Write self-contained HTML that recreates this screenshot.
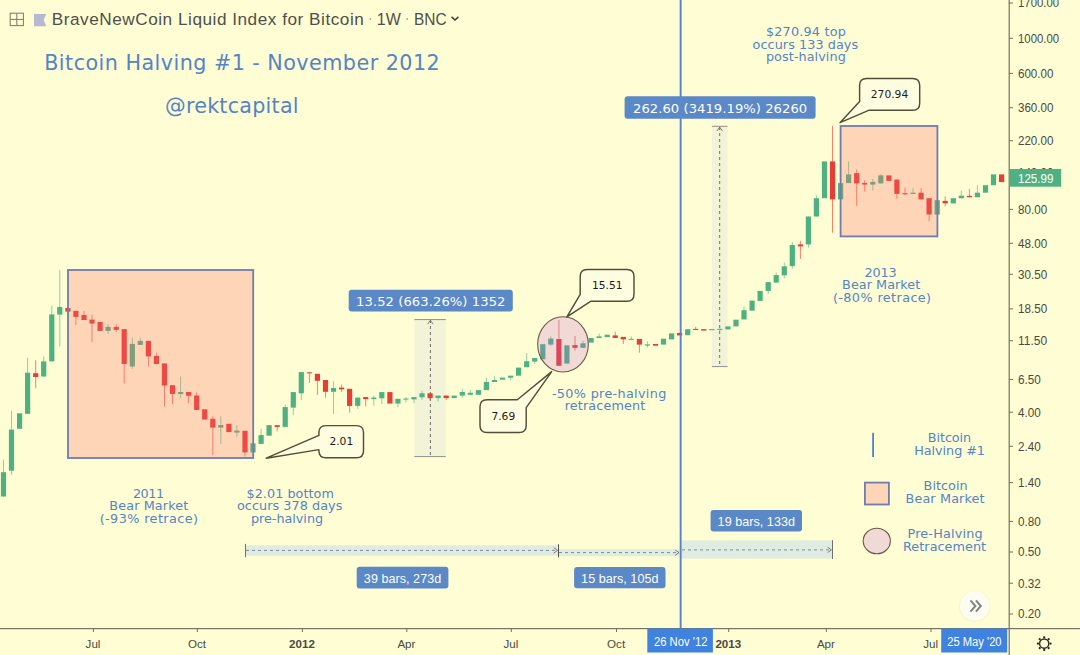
<!DOCTYPE html>
<html lang="en"><head><meta charset="utf-8"><title>Bitcoin Halving #1 - November 2012</title>
<style>
html,body{margin:0;padding:0;background:#fefdd4;}
body{width:1080px;height:655px;overflow:hidden;font-family:"Liberation Sans", sans-serif;}
svg{display:block}
text{white-space:pre}
</style></head><body>
<svg width="1080" height="655" viewBox="0 0 1080 655">
<rect x="0" y="0" width="1080" height="655" fill="#fefdd4"/>

<g id="measures">
<rect x="414.4" y="319.6" width="31.4" height="137" fill="#b8c8e8" fill-opacity="0.16"/>
<line x1="414.4" y1="319.6" x2="445.8" y2="319.6" stroke="#8f9088" stroke-width="1"/>
<line x1="414.4" y1="456.6" x2="445.8" y2="456.6" stroke="#8f9088" stroke-width="1"/>
<line x1="430.4" y1="320" x2="430.4" y2="456.6" stroke="#6e6e66" stroke-width="1" stroke-dasharray="3,3"/>
<path d="M427.6 324.2 L430.4 320.4 L433.2 324.2" fill="none" stroke="#6e6e66" stroke-width="0.9"/>
<rect x="711.9" y="126.3" width="15.7" height="240.3" fill="#b8c8e8" fill-opacity="0.16"/>
<line x1="711.9" y1="126.3" x2="727.6" y2="126.3" stroke="#8f9088" stroke-width="1"/>
<line x1="711.9" y1="366.6" x2="727.6" y2="366.6" stroke="#8f9088" stroke-width="1"/>
<line x1="719.7" y1="127" x2="719.7" y2="366.6" stroke="#6e6e66" stroke-width="1" stroke-dasharray="3,3"/>
<path d="M717 131 L719.7 127.2 L722.4 131" fill="none" stroke="#6e6e66" stroke-width="0.9"/>
<rect x="245.5" y="545.3" width="313" height="10.4" fill="#9cc8ff" fill-opacity="0.30"/>
<line x1="245.5" y1="543.9" x2="245.5" y2="557.3" stroke="#70706a" stroke-width="1"/>
<line x1="246" y1="550.4" x2="557" y2="550.4" stroke="#7d8c96" stroke-width="1" stroke-dasharray="3,3"/>
<path d="M553.6 547.6 L557.6 550.4 L553.6 553.2" fill="none" stroke="#70706a" stroke-width="0.9"/>
<rect x="558.5" y="549.2" width="121" height="7" fill="#9cc8ff" fill-opacity="0.30"/>
<line x1="558.5" y1="544.3" x2="558.5" y2="557.4" stroke="#55554f" stroke-width="1"/>
<line x1="559" y1="552.6" x2="678" y2="552.6" stroke="#7d8c96" stroke-width="1" stroke-dasharray="3,3"/>
<path d="M675.2 549.9 L679 552.6 L675.2 555.3" fill="none" stroke="#70706a" stroke-width="0.9"/>
<rect x="680" y="540.4" width="152.5" height="18.2" fill="#9cc8ff" fill-opacity="0.30"/>
<line x1="832.5" y1="540.2" x2="832.5" y2="559" stroke="#70706a" stroke-width="1"/>
<line x1="682" y1="549.9" x2="831" y2="549.9" stroke="#7d8c96" stroke-width="1" stroke-dasharray="3,3"/>
<path d="M827.6 547.2 L831.4 549.9 L827.6 552.6" fill="none" stroke="#70706a" stroke-width="0.9"/>
</g>
<g id="candles" shape-rendering="auto">
<rect x="3.0" y="459.6" width="1" height="36.9" fill="#4fb181" fill-opacity="0.62"/>
<rect x="0.9" y="472.2" width="5.2" height="24.3" fill="#4fb181"/>
<rect x="11.0" y="411.0" width="1" height="64.0" fill="#4fb181" fill-opacity="0.62"/>
<rect x="8.9" y="429.6" width="5.2" height="41.1" fill="#4fb181"/>
<rect x="17.0" y="413.3" width="5.2" height="15.5" fill="#4fb181"/>
<rect x="27.1" y="357.7" width="1" height="56.1" fill="#4fb181" fill-opacity="0.62"/>
<rect x="25.0" y="372.7" width="5.2" height="41.1" fill="#4fb181"/>
<rect x="35.2" y="360.2" width="1" height="28.0" fill="#e53e36" fill-opacity="0.62"/>
<rect x="33.1" y="373.2" width="5.2" height="3.8" fill="#e53e36"/>
<rect x="43.2" y="356.4" width="1" height="20.1" fill="#4fb181" fill-opacity="0.62"/>
<rect x="41.1" y="361.4" width="5.2" height="15.1" fill="#4fb181"/>
<rect x="51.3" y="305.6" width="1" height="55.8" fill="#4fb181" fill-opacity="0.62"/>
<rect x="49.2" y="314.4" width="5.2" height="47.0" fill="#4fb181"/>
<rect x="59.3" y="270.0" width="1" height="76.4" fill="#4fb181" fill-opacity="0.62"/>
<rect x="57.2" y="307.0" width="5.2" height="7.6" fill="#4fb181"/>
<rect x="65.3" y="308.0" width="5.2" height="3.6" fill="#e53e36"/>
<rect x="75.4" y="310.9" width="1" height="14.1" fill="#e53e36" fill-opacity="0.62"/>
<rect x="73.3" y="310.9" width="5.2" height="6.0" fill="#e53e36"/>
<rect x="83.5" y="310.9" width="1" height="9.1" fill="#e53e36" fill-opacity="0.62"/>
<rect x="81.4" y="315.0" width="5.2" height="5.0" fill="#e53e36"/>
<rect x="91.5" y="314.6" width="1" height="27.6" fill="#e53e36" fill-opacity="0.62"/>
<rect x="89.4" y="319.6" width="5.2" height="4.0" fill="#e53e36"/>
<rect x="97.5" y="321.9" width="5.2" height="9.0" fill="#e53e36"/>
<rect x="107.6" y="324.0" width="1" height="10.0" fill="#4fb181" fill-opacity="0.62"/>
<rect x="105.5" y="326.9" width="5.2" height="4.0" fill="#4fb181"/>
<rect x="115.7" y="323.9" width="1" height="8.1" fill="#e53e36" fill-opacity="0.62"/>
<rect x="113.6" y="326.9" width="5.2" height="3.0" fill="#e53e36"/>
<rect x="123.7" y="329.1" width="1" height="54.4" fill="#e53e36" fill-opacity="0.62"/>
<rect x="121.6" y="329.1" width="5.2" height="34.9" fill="#e53e36"/>
<rect x="131.8" y="337.7" width="1" height="31.3" fill="#4fb181" fill-opacity="0.62"/>
<rect x="129.7" y="343.9" width="5.2" height="22.6" fill="#4fb181"/>
<rect x="139.8" y="337.7" width="1" height="7.2" fill="#4fb181" fill-opacity="0.62"/>
<rect x="137.7" y="340.9" width="5.2" height="4.0" fill="#4fb181"/>
<rect x="147.9" y="340.9" width="1" height="25.6" fill="#e53e36" fill-opacity="0.62"/>
<rect x="145.8" y="340.9" width="5.2" height="15.5" fill="#e53e36"/>
<rect x="155.9" y="352.7" width="1" height="11.3" fill="#e53e36" fill-opacity="0.62"/>
<rect x="153.8" y="355.9" width="5.2" height="8.1" fill="#e53e36"/>
<rect x="164.0" y="363.4" width="1" height="43.1" fill="#e53e36" fill-opacity="0.62"/>
<rect x="161.9" y="363.4" width="5.2" height="22.1" fill="#e53e36"/>
<rect x="172.0" y="385.2" width="1" height="18.8" fill="#e53e36" fill-opacity="0.62"/>
<rect x="169.9" y="385.2" width="5.2" height="8.8" fill="#e53e36"/>
<rect x="180.1" y="376.5" width="1" height="21.8" fill="#4fb181" fill-opacity="0.62"/>
<rect x="178.0" y="392.0" width="5.2" height="2.0" fill="#4fb181"/>
<rect x="188.1" y="392.0" width="1" height="11.3" fill="#e53e36" fill-opacity="0.62"/>
<rect x="186.0" y="392.0" width="5.2" height="3.8" fill="#e53e36"/>
<rect x="196.2" y="392.5" width="1" height="17.5" fill="#e53e36" fill-opacity="0.62"/>
<rect x="194.1" y="395.5" width="5.2" height="14.5" fill="#e53e36"/>
<rect x="202.1" y="409.3" width="5.2" height="10.3" fill="#e53e36"/>
<rect x="212.3" y="416.3" width="1" height="38.8" fill="#e53e36" fill-opacity="0.62"/>
<rect x="210.2" y="418.8" width="5.2" height="8.8" fill="#e53e36"/>
<rect x="220.3" y="416.3" width="1" height="27.6" fill="#4fb181" fill-opacity="0.62"/>
<rect x="218.2" y="425.0" width="5.2" height="2.6" fill="#4fb181"/>
<rect x="226.3" y="423.8" width="5.2" height="8.3" fill="#e53e36"/>
<rect x="236.4" y="425.0" width="1" height="12.0" fill="#4fb181" fill-opacity="0.62"/>
<rect x="234.3" y="430.6" width="5.2" height="2.0" fill="#4fb181"/>
<rect x="244.5" y="430.8" width="1" height="25.6" fill="#e53e36" fill-opacity="0.62"/>
<rect x="242.4" y="430.8" width="5.2" height="21.6" fill="#e53e36"/>
<rect x="250.4" y="443.3" width="5.2" height="9.1" fill="#4fb181"/>
<rect x="260.6" y="428.9" width="1" height="15.0" fill="#4fb181" fill-opacity="0.62"/>
<rect x="258.5" y="435.1" width="5.2" height="8.8" fill="#4fb181"/>
<rect x="266.5" y="425.1" width="5.2" height="10.6" fill="#4fb181"/>
<rect x="276.7" y="425.2" width="1" height="6.2" fill="#e53e36" fill-opacity="0.62"/>
<rect x="274.6" y="425.2" width="5.2" height="1.7" fill="#e53e36"/>
<rect x="284.7" y="404.6" width="1" height="22.3" fill="#4fb181" fill-opacity="0.62"/>
<rect x="282.6" y="407.1" width="5.2" height="19.8" fill="#4fb181"/>
<rect x="292.8" y="392.1" width="1" height="23.0" fill="#4fb181" fill-opacity="0.62"/>
<rect x="290.7" y="392.1" width="5.2" height="15.5" fill="#4fb181"/>
<rect x="300.8" y="372.1" width="1" height="27.9" fill="#4fb181" fill-opacity="0.62"/>
<rect x="298.7" y="372.1" width="5.2" height="21.2" fill="#4fb181"/>
<rect x="308.9" y="372.3" width="1" height="10.7" fill="#e53e36" fill-opacity="0.62"/>
<rect x="306.8" y="372.3" width="5.2" height="1.0" fill="#e53e36"/>
<rect x="316.9" y="373.8" width="1" height="21.2" fill="#e53e36" fill-opacity="0.62"/>
<rect x="314.8" y="373.8" width="5.2" height="7.0" fill="#e53e36"/>
<rect x="325.0" y="380.0" width="1" height="17.6" fill="#e53e36" fill-opacity="0.62"/>
<rect x="322.9" y="380.0" width="5.2" height="11.8" fill="#e53e36"/>
<rect x="333.0" y="381.3" width="1" height="32.6" fill="#4fb181" fill-opacity="0.62"/>
<rect x="330.9" y="388.0" width="5.2" height="3.8" fill="#4fb181"/>
<rect x="341.1" y="384.6" width="1" height="7.4" fill="#e53e36" fill-opacity="0.62"/>
<rect x="339.0" y="387.6" width="5.2" height="1.7" fill="#e53e36"/>
<rect x="349.1" y="388.8" width="1" height="23.8" fill="#e53e36" fill-opacity="0.62"/>
<rect x="347.0" y="388.8" width="5.2" height="17.1" fill="#e53e36"/>
<rect x="357.2" y="397.6" width="1" height="11.3" fill="#4fb181" fill-opacity="0.62"/>
<rect x="355.1" y="397.6" width="5.2" height="8.3" fill="#4fb181"/>
<rect x="365.2" y="397.1" width="1" height="9.3" fill="#e53e36" fill-opacity="0.62"/>
<rect x="363.1" y="397.1" width="5.2" height="2.0" fill="#e53e36"/>
<rect x="373.3" y="395.6" width="1" height="10.0" fill="#4fb181" fill-opacity="0.62"/>
<rect x="371.2" y="397.6" width="5.2" height="1.5" fill="#4fb181"/>
<rect x="381.3" y="392.1" width="1" height="11.8" fill="#4fb181" fill-opacity="0.62"/>
<rect x="379.2" y="392.1" width="5.2" height="6.2" fill="#4fb181"/>
<rect x="387.3" y="392.1" width="5.2" height="11.5" fill="#e53e36"/>
<rect x="397.4" y="398.8" width="1" height="8.3" fill="#4fb181" fill-opacity="0.62"/>
<rect x="395.3" y="398.8" width="5.2" height="4.8" fill="#4fb181"/>
<rect x="405.4" y="397.1" width="1" height="5.5" fill="#4fb181" fill-opacity="0.62"/>
<rect x="403.3" y="398.6" width="5.2" height="1.0" fill="#4fb181"/>
<rect x="413.5" y="397.1" width="1" height="6.0" fill="#4fb181" fill-opacity="0.62"/>
<rect x="411.4" y="397.1" width="5.2" height="2.3" fill="#4fb181"/>
<rect x="421.5" y="390.8" width="1" height="9.2" fill="#4fb181" fill-opacity="0.62"/>
<rect x="419.4" y="393.3" width="5.2" height="4.0" fill="#4fb181"/>
<rect x="429.6" y="393.3" width="1" height="6.7" fill="#e53e36" fill-opacity="0.62"/>
<rect x="427.5" y="393.3" width="5.2" height="4.8" fill="#e53e36"/>
<rect x="437.6" y="395.6" width="1" height="5.8" fill="#4fb181" fill-opacity="0.62"/>
<rect x="435.5" y="395.6" width="5.2" height="2.5" fill="#4fb181"/>
<rect x="445.7" y="395.6" width="1" height="4.4" fill="#e53e36" fill-opacity="0.62"/>
<rect x="443.6" y="395.6" width="5.2" height="2.5" fill="#e53e36"/>
<rect x="451.6" y="395.6" width="5.2" height="2.5" fill="#4fb181"/>
<rect x="461.8" y="388.8" width="1" height="8.8" fill="#4fb181" fill-opacity="0.62"/>
<rect x="459.7" y="392.0" width="5.2" height="3.6" fill="#4fb181"/>
<rect x="469.8" y="390.0" width="1" height="4.8" fill="#4fb181" fill-opacity="0.62"/>
<rect x="467.7" y="392.8" width="5.2" height="2.0" fill="#4fb181"/>
<rect x="475.8" y="390.1" width="5.2" height="4.7" fill="#4fb181"/>
<rect x="485.9" y="377.6" width="1" height="12.5" fill="#4fb181" fill-opacity="0.62"/>
<rect x="483.8" y="381.9" width="5.2" height="8.2" fill="#4fb181"/>
<rect x="494.0" y="376.4" width="1" height="5.6" fill="#4fb181" fill-opacity="0.62"/>
<rect x="491.9" y="380.0" width="5.2" height="2.0" fill="#4fb181"/>
<rect x="499.9" y="377.6" width="5.2" height="2.1" fill="#4fb181"/>
<rect x="510.1" y="375.7" width="1" height="4.5" fill="#4fb181" fill-opacity="0.62"/>
<rect x="508.0" y="375.7" width="5.2" height="2.0" fill="#4fb181"/>
<rect x="516.0" y="367.6" width="5.2" height="8.1" fill="#4fb181"/>
<rect x="526.2" y="353.0" width="1" height="14.2" fill="#4fb181" fill-opacity="0.62"/>
<rect x="524.1" y="361.2" width="5.2" height="6.0" fill="#4fb181"/>
<rect x="534.2" y="358.0" width="1" height="6.0" fill="#4fb181" fill-opacity="0.62"/>
<rect x="532.1" y="358.0" width="5.2" height="3.6" fill="#4fb181"/>
<rect x="540.2" y="344.2" width="5.2" height="15.1" fill="#4fb181"/>
<rect x="550.3" y="336.4" width="1" height="9.8" fill="#4fb181" fill-opacity="0.62"/>
<rect x="548.2" y="338.6" width="5.2" height="6.0" fill="#4fb181"/>
<rect x="558.4" y="319.9" width="1" height="45.9" fill="#e53e36" fill-opacity="0.62"/>
<rect x="556.3" y="339.0" width="5.2" height="26.8" fill="#e53e36"/>
<rect x="564.3" y="345.3" width="5.2" height="18.3" fill="#4fb181"/>
<rect x="574.5" y="336.0" width="1" height="14.5" fill="#e53e36" fill-opacity="0.62"/>
<rect x="572.4" y="345.1" width="5.2" height="2.7" fill="#e53e36"/>
<rect x="582.5" y="340.7" width="1" height="7.1" fill="#4fb181" fill-opacity="0.62"/>
<rect x="580.4" y="343.3" width="5.2" height="4.5" fill="#4fb181"/>
<rect x="588.5" y="338.0" width="5.2" height="4.6" fill="#4fb181"/>
<rect x="598.6" y="333.6" width="1" height="4.4" fill="#4fb181" fill-opacity="0.62"/>
<rect x="596.5" y="336.4" width="5.2" height="1.6" fill="#4fb181"/>
<rect x="604.6" y="334.7" width="5.2" height="2.4" fill="#4fb181"/>
<rect x="614.7" y="331.6" width="1" height="6.4" fill="#e53e36" fill-opacity="0.62"/>
<rect x="612.6" y="335.4" width="5.2" height="2.6" fill="#e53e36"/>
<rect x="622.8" y="336.9" width="1" height="7.0" fill="#e53e36" fill-opacity="0.62"/>
<rect x="620.7" y="336.9" width="5.2" height="2.5" fill="#e53e36"/>
<rect x="630.8" y="336.4" width="1" height="3.5" fill="#4fb181" fill-opacity="0.62"/>
<rect x="628.7" y="338.9" width="5.2" height="1.0" fill="#4fb181"/>
<rect x="638.9" y="338.9" width="1" height="13.8" fill="#e53e36" fill-opacity="0.62"/>
<rect x="636.8" y="338.9" width="5.2" height="5.7" fill="#e53e36"/>
<rect x="646.9" y="341.4" width="1" height="6.3" fill="#4fb181" fill-opacity="0.62"/>
<rect x="644.8" y="344.4" width="5.2" height="1.2" fill="#4fb181"/>
<rect x="652.9" y="344.0" width="5.2" height="1.7" fill="#e53e36"/>
<rect x="660.9" y="338.7" width="5.2" height="5.9" fill="#4fb181"/>
<rect x="669.0" y="333.4" width="5.2" height="6.0" fill="#4fb181"/>
<rect x="677.0" y="332.9" width="5.2" height="2.5" fill="#e53e36"/>
<rect x="685.1" y="329.2" width="5.2" height="6.0" fill="#4fb181"/>
<rect x="695.2" y="326.8" width="1" height="3.2" fill="#e53e36" fill-opacity="0.62"/>
<rect x="693.1" y="328.9" width="5.2" height="1.1" fill="#e53e36"/>
<rect x="701.2" y="329.1" width="5.2" height="1.5" fill="#e53e36"/>
<rect x="709.2" y="329.1" width="5.2" height="1.1" fill="#4fb181"/>
<rect x="719.4" y="327.5" width="1" height="3.7" fill="#4fb181" fill-opacity="0.62"/>
<rect x="717.3" y="328.9" width="5.2" height="1.0" fill="#4fb181"/>
<rect x="725.3" y="326.4" width="5.2" height="3.0" fill="#4fb181"/>
<rect x="733.4" y="319.7" width="5.2" height="6.7" fill="#4fb181"/>
<rect x="743.5" y="306.4" width="1" height="13.0" fill="#4fb181" fill-opacity="0.62"/>
<rect x="741.4" y="310.2" width="5.2" height="9.2" fill="#4fb181"/>
<rect x="749.5" y="300.6" width="5.2" height="10.1" fill="#4fb181"/>
<rect x="757.5" y="290.9" width="5.2" height="10.0" fill="#4fb181"/>
<rect x="767.7" y="282.1" width="1" height="11.8" fill="#4fb181" fill-opacity="0.62"/>
<rect x="765.6" y="282.1" width="5.2" height="8.8" fill="#4fb181"/>
<rect x="775.7" y="272.6" width="1" height="10.0" fill="#4fb181" fill-opacity="0.62"/>
<rect x="773.6" y="275.1" width="5.2" height="7.5" fill="#4fb181"/>
<rect x="783.8" y="262.6" width="1" height="15.5" fill="#4fb181" fill-opacity="0.62"/>
<rect x="781.7" y="266.3" width="5.2" height="9.0" fill="#4fb181"/>
<rect x="791.8" y="242.0" width="1" height="26.8" fill="#4fb181" fill-opacity="0.62"/>
<rect x="789.7" y="245.0" width="5.2" height="21.1" fill="#4fb181"/>
<rect x="799.9" y="240.7" width="1" height="18.2" fill="#e53e36" fill-opacity="0.62"/>
<rect x="797.8" y="244.4" width="5.2" height="2.0" fill="#e53e36"/>
<rect x="807.9" y="216.5" width="1" height="31.1" fill="#4fb181" fill-opacity="0.62"/>
<rect x="805.8" y="216.5" width="5.2" height="27.9" fill="#4fb181"/>
<rect x="815.9" y="195.2" width="1" height="21.3" fill="#4fb181" fill-opacity="0.62"/>
<rect x="813.8" y="198.2" width="5.2" height="18.3" fill="#4fb181"/>
<rect x="821.9" y="161.4" width="5.2" height="36.8" fill="#4fb181"/>
<rect x="832.0" y="125.8" width="1" height="106.9" fill="#e53e36" fill-opacity="0.62"/>
<rect x="829.9" y="161.4" width="5.2" height="38.0" fill="#e53e36"/>
<rect x="838.0" y="183.1" width="5.2" height="16.3" fill="#4fb181"/>
<rect x="848.1" y="161.4" width="1" height="21.7" fill="#4fb181" fill-opacity="0.62"/>
<rect x="846.0" y="174.4" width="5.2" height="8.7" fill="#4fb181"/>
<rect x="856.2" y="169.4" width="1" height="36.3" fill="#e53e36" fill-opacity="0.62"/>
<rect x="854.1" y="173.1" width="5.2" height="10.3" fill="#e53e36"/>
<rect x="864.2" y="180.1" width="1" height="11.3" fill="#e53e36" fill-opacity="0.62"/>
<rect x="862.1" y="182.9" width="5.2" height="1.7" fill="#e53e36"/>
<rect x="872.3" y="178.9" width="1" height="11.8" fill="#4fb181" fill-opacity="0.62"/>
<rect x="870.2" y="181.9" width="5.2" height="2.7" fill="#4fb181"/>
<rect x="880.3" y="174.2" width="1" height="9.2" fill="#4fb181" fill-opacity="0.62"/>
<rect x="878.2" y="175.4" width="5.2" height="8.0" fill="#4fb181"/>
<rect x="886.3" y="175.4" width="5.2" height="5.5" fill="#e53e36"/>
<rect x="896.4" y="179.6" width="1" height="19.3" fill="#e53e36" fill-opacity="0.62"/>
<rect x="894.3" y="179.6" width="5.2" height="14.3" fill="#e53e36"/>
<rect x="904.5" y="187.7" width="1" height="7.5" fill="#e53e36" fill-opacity="0.62"/>
<rect x="902.4" y="193.2" width="5.2" height="1.1" fill="#e53e36"/>
<rect x="912.5" y="188.2" width="1" height="5.7" fill="#4fb181" fill-opacity="0.62"/>
<rect x="910.4" y="192.7" width="5.2" height="1.2" fill="#4fb181"/>
<rect x="920.6" y="188.2" width="1" height="11.2" fill="#e53e36" fill-opacity="0.62"/>
<rect x="918.5" y="192.7" width="5.2" height="6.7" fill="#e53e36"/>
<rect x="928.6" y="198.2" width="1" height="23.3" fill="#e53e36" fill-opacity="0.62"/>
<rect x="926.5" y="198.2" width="5.2" height="16.3" fill="#e53e36"/>
<rect x="934.6" y="200.2" width="5.2" height="14.3" fill="#4fb181"/>
<rect x="944.7" y="196.4" width="1" height="10.0" fill="#e53e36" fill-opacity="0.62"/>
<rect x="942.6" y="200.9" width="5.2" height="2.4" fill="#e53e36"/>
<rect x="950.7" y="198.2" width="5.2" height="5.2" fill="#4fb181"/>
<rect x="960.8" y="190.7" width="1" height="7.5" fill="#4fb181" fill-opacity="0.62"/>
<rect x="958.7" y="195.7" width="5.2" height="2.5" fill="#4fb181"/>
<rect x="968.9" y="188.9" width="1" height="8.3" fill="#e53e36" fill-opacity="0.62"/>
<rect x="966.8" y="195.9" width="5.2" height="1.3" fill="#e53e36"/>
<rect x="976.9" y="185.2" width="1" height="12.0" fill="#4fb181" fill-opacity="0.62"/>
<rect x="974.8" y="192.7" width="5.2" height="4.5" fill="#4fb181"/>
<rect x="982.9" y="185.2" width="5.2" height="7.5" fill="#4fb181"/>
<rect x="990.9" y="174.4" width="5.2" height="10.8" fill="#4fb181"/>
<rect x="999.0" y="174.4" width="5.2" height="7.7" fill="#e53e36"/>
</g>
<rect x="679.7" y="0" width="1.9" height="628.5" fill="#5882cc"/>
<rect x="68" y="270" width="185.2" height="188" fill="#ff6e6d" fill-opacity="0.28" stroke="#717cad" stroke-width="1.8"/>
<rect x="840.6" y="126" width="96.8" height="110.4" fill="#ff6e6d" fill-opacity="0.28" stroke="#717cad" stroke-width="1.8"/>
<ellipse cx="563" cy="344.4" rx="25.3" ry="27.6" fill="#c661dc" fill-opacity="0.22" stroke="#6a5a4a" stroke-width="1.1"/>
<path d="M325.9 425.6 H356.5 Q363.5 425.6 363.5 432.6 V450.7 Q363.5 457.7 356.5 457.7 H325.9 Q318.9 457.7 318.9 450.7 V449.6 L266.3 458.2 L318.9 435.4 V432.6 Q318.9 425.6 325.9 425.6 Z" fill="#fffde0" stroke="#524f38" stroke-width="1.45" stroke-linejoin="round"/>
<text x="341.3" y="445.1" font-size="10.7" fill="#1c1c1c" text-anchor="middle" font-family='"DejaVu Sans", "Liberation Sans", sans-serif'>2.01</text>
<path d="M487 399.7 H517.3 L551.7 371.6 L526.2 407.6 V425.4 Q526.2 432.4 519.2 432.4 H487 Q480 432.4 480 425.4 V406.7 Q480 399.7 487 399.7 Z" fill="#fffde0" stroke="#524f38" stroke-width="1.45" stroke-linejoin="round"/>
<text x="503.3" y="419.6" font-size="10.7" fill="#1c1c1c" text-anchor="middle" font-family='"DejaVu Sans", "Liberation Sans", sans-serif'>7.69</text>
<path d="M587.2 269.5 H627 Q634 269.5 634 276.5 V294.3 Q634 301.3 627 301.3 H590.6 L566.9 316.9 L580.2 294.4 V276.5 Q580.2 269.5 587.2 269.5 Z" fill="#fffde0" stroke="#524f38" stroke-width="1.45" stroke-linejoin="round"/>
<text x="607.2" y="289.3" font-size="10.7" fill="#1c1c1c" text-anchor="middle" font-family='"DejaVu Sans", "Liberation Sans", sans-serif'>15.51</text>
<path d="M866.6 78.4 H912.7 Q919.7 78.4 919.7 85.4 V103.2 Q919.7 110.2 912.7 110.2 H869.2 L840 122.7 L859.6 101.4 V85.4 Q859.6 78.4 866.6 78.4 Z" fill="#fffde0" stroke="#524f38" stroke-width="1.45" stroke-linejoin="round"/>
<text x="889.5" y="98.2" font-size="10.7" fill="#1c1c1c" text-anchor="middle" font-family='"DejaVu Sans", "Liberation Sans", sans-serif'>270.94</text>
<rect x="348.7" y="289.8" width="164.1" height="21.8" rx="3" ry="3" fill="#5b88c6"/><text x="430.75" y="305.8" font-size="13.15" fill="#ffffff" text-anchor="middle" textLength="149.4" font-family='"DejaVu Sans", "Liberation Sans", sans-serif'>13.52 (663.26%) 1352</text>
<rect x="624.6" y="96.3" width="191" height="22.4" rx="3" ry="3" fill="#5b88c6"/><text x="720.1" y="112.6" font-size="13.15" fill="#ffffff" text-anchor="middle" textLength="174.2" font-family='"DejaVu Sans", "Liberation Sans", sans-serif'>262.60 (3419.19%) 26260</text>
<rect x="356.7" y="566.8" width="91.7" height="21.6" rx="3" ry="3" fill="#5b88c6"/><text x="402.55" y="582.5" font-size="12.6" fill="#ffffff" text-anchor="middle" textLength="77.4" font-family='"Liberation Sans", sans-serif'>39 bars, 273d</text>
<rect x="574.1" y="566.9" width="91.4" height="21.4" rx="3" ry="3" fill="#5b88c6"/><text x="619.8000000000001" y="582.5" font-size="12.6" fill="#ffffff" text-anchor="middle" textLength="77.4" font-family='"Liberation Sans", sans-serif'>15 bars, 105d</text>
<rect x="710.6" y="510.1" width="91.4" height="21.5" rx="3" ry="3" fill="#5b88c6"/><text x="756.3000000000001" y="525.7" font-size="12.6" fill="#ffffff" text-anchor="middle" textLength="77.4" font-family='"Liberation Sans", sans-serif'>19 bars, 133d</text>
<text x="132.9" y="497.6" font-size="12.8" fill="#5584c4" textLength="31.3" font-family='"DejaVu Sans", "Liberation Sans", sans-serif' >2011</text>
<text x="109.3" y="510.4" font-size="12.8" fill="#5584c4" textLength="79.0" font-family='"DejaVu Sans", "Liberation Sans", sans-serif' >Bear Market</text>
<text x="99.7" y="523.4" font-size="12.8" fill="#5584c4" textLength="98.2" font-family='"DejaVu Sans", "Liberation Sans", sans-serif' >(-93% retrace)</text>
<text x="246.5" y="497.6" font-size="12.8" fill="#5584c4" textLength="87.4" font-family='"DejaVu Sans", "Liberation Sans", sans-serif' >$2.01 bottom</text>
<text x="236.9" y="510.4" font-size="12.8" fill="#5584c4" textLength="105.5" font-family='"DejaVu Sans", "Liberation Sans", sans-serif' >occurs 378 days</text>
<text x="250.9" y="523.4" font-size="12.8" fill="#5584c4" textLength="72.2" font-family='"DejaVu Sans", "Liberation Sans", sans-serif' >pre-halving</text>
<text x="551.9" y="397.7" font-size="12.8" fill="#5584c4" textLength="114.4" font-family='"DejaVu Sans", "Liberation Sans", sans-serif' >-50% pre-halving</text>
<text x="564.7" y="410.0" font-size="12.8" fill="#5584c4" textLength="80.6" font-family='"DejaVu Sans", "Liberation Sans", sans-serif' >retracement</text>
<text x="864.5" y="276.5" font-size="12.8" fill="#5584c4" textLength="32.2" font-family='"DejaVu Sans", "Liberation Sans", sans-serif' >2013</text>
<text x="842.1" y="289.3" font-size="12.8" fill="#5584c4" textLength="78.2" font-family='"DejaVu Sans", "Liberation Sans", sans-serif' >Bear Market</text>
<text x="832.9" y="302.0" font-size="12.8" fill="#5584c4" textLength="98.2" font-family='"DejaVu Sans", "Liberation Sans", sans-serif' >(-80% retrace)</text>
<text x="765.9" y="36.4" font-size="12.8" fill="#5584c4" textLength="79.9" font-family='"DejaVu Sans", "Liberation Sans", sans-serif' >$270.94 top</text>
<text x="752.6" y="48.9" font-size="12.8" fill="#5584c4" textLength="105.5" font-family='"DejaVu Sans", "Liberation Sans", sans-serif' >occurs 133 days</text>
<text x="765.9" y="60.9" font-size="12.8" fill="#5584c4" textLength="79.9" font-family='"DejaVu Sans", "Liberation Sans", sans-serif' >post-halving</text>
<rect x="872.2" y="432.8" width="1.8" height="24.2" fill="#4f7fd0"/>
<text x="927.8" y="441.9" font-size="12.8" fill="#5584c4" textLength="43.4" font-family='"DejaVu Sans", "Liberation Sans", sans-serif' >Bitcoin</text>
<text x="914.3" y="454.5" font-size="12.8" fill="#5584c4" textLength="70.7" font-family='"DejaVu Sans", "Liberation Sans", sans-serif' >Halving #1</text>
<rect x="864.9" y="482.6" width="24" height="21.9" fill="#ff6e6d" fill-opacity="0.28" stroke="#717cad" stroke-width="1.8"/>
<text x="923.6" y="490.0" font-size="12.8" fill="#5584c4" textLength="44.1" font-family='"DejaVu Sans", "Liberation Sans", sans-serif' >Bitcoin</text>
<text x="905.5" y="502.7" font-size="12.8" fill="#5584c4" textLength="79.1" font-family='"DejaVu Sans", "Liberation Sans", sans-serif' >Bear Market</text>
<ellipse cx="876.8" cy="541" rx="13.6" ry="12.7" fill="#c661dc" fill-opacity="0.22" stroke="#6a5a4a" stroke-width="1.1"/>
<text x="907.5" y="538.4" font-size="12.8" fill="#5584c4" textLength="75.1" font-family='"DejaVu Sans", "Liberation Sans", sans-serif' >Pre-Halving</text>
<text x="903.0" y="550.8" font-size="12.8" fill="#5584c4" textLength="83.1" font-family='"DejaVu Sans", "Liberation Sans", sans-serif' >Retracement</text>
<text x="44.2" y="70.3" font-size="20.7" textLength="395.5" fill="#5584c4" font-family='"DejaVu Sans", "Liberation Sans", sans-serif' id="big1">Bitcoin Halving #1 - November 2012</text>
<text x="165.0" y="112.7" font-size="20.7" textLength="133.6" fill="#5584c4" font-family='"DejaVu Sans", "Liberation Sans", sans-serif' id="big2">@rektcapital</text>
<g id="header">
<rect x="10.2" y="13.2" width="13.2" height="12.4" fill="none" stroke="#7a7a66" stroke-width="1"/>
<path d="M16.8 13.4 V25.4 M10.4 19.4 H23.2" stroke="#7a7a66" stroke-width="1" fill="none"/>
<path d="M34 14 H46.3 L43.6 20 L46.3 26.2 H34 Z" fill="#b6b9d2"/>
<text x="51.8" y="25" font-size="17.2" textLength="312" fill="#50504a" font-family='"Liberation Sans", sans-serif' id="ttl">BraveNewCoin Liquid Index for Bitcoin</text>
<circle cx="370.3" cy="19" r="0.9" fill="#a5a596"/>
<text x="376.8" y="25" font-size="17.2" textLength="24" lengthAdjust="spacingAndGlyphs" fill="#50504a" font-family='"Liberation Sans", sans-serif' id="tf">1W</text>
<circle cx="407.2" cy="19" r="0.9" fill="#a5a596"/>
<text x="414.0" y="25" font-size="17.2" textLength="32.6" lengthAdjust="spacingAndGlyphs" fill="#50504a" font-family='"Liberation Sans", sans-serif' id="ex">BNC</text>
<path d="M451.6 16.9 L455 20 L458.4 16.9" fill="none" stroke="#3c3c34" stroke-width="1.5"/>
</g>
<g id="axes">
<rect x="0" y="628" width="1080" height="1.2" fill="#74735b"/>
<rect x="1008.6" y="0" width="1.2" height="655" fill="#74735b"/>
<rect x="1009" y="2.5" width="4" height="1" fill="#74735b"/>
<text x="1018.0" y="7.3" font-size="12" textLength="41.099999999999994" lengthAdjust="spacingAndGlyphs" fill="#4a4a42" font-family='"Liberation Sans", sans-serif'>1700.00</text>
<rect x="1009" y="37.8" width="4" height="1" fill="#74735b"/>
<text x="1018.0" y="42.6" font-size="12" textLength="41.099999999999994" lengthAdjust="spacingAndGlyphs" fill="#4a4a42" font-family='"Liberation Sans", sans-serif'>1000.00</text>
<rect x="1009" y="72.9" width="4" height="1" fill="#74735b"/>
<text x="1018.0" y="77.7" font-size="12" textLength="35.4" lengthAdjust="spacingAndGlyphs" fill="#4a4a42" font-family='"Liberation Sans", sans-serif'>600.00</text>
<rect x="1009" y="107.2" width="4" height="1" fill="#74735b"/>
<text x="1018.0" y="112.0" font-size="12" textLength="35.4" lengthAdjust="spacingAndGlyphs" fill="#4a4a42" font-family='"Liberation Sans", sans-serif'>360.00</text>
<rect x="1009" y="140.2" width="4" height="1" fill="#74735b"/>
<text x="1018.0" y="145.0" font-size="12" textLength="35.4" lengthAdjust="spacingAndGlyphs" fill="#4a4a42" font-family='"Liberation Sans", sans-serif'>220.00</text>
<rect x="1009" y="172.0" width="4" height="1" fill="#74735b"/>
<text x="1018.0" y="176.8" font-size="12" textLength="35.4" lengthAdjust="spacingAndGlyphs" fill="#4a4a42" font-family='"Liberation Sans", sans-serif'>140.00</text>
<rect x="1009" y="208.9" width="4" height="1" fill="#74735b"/>
<text x="1018.0" y="213.7" font-size="12" textLength="29.1" lengthAdjust="spacingAndGlyphs" fill="#4a4a42" font-family='"Liberation Sans", sans-serif'>80.00</text>
<rect x="1009" y="242.8" width="4" height="1" fill="#74735b"/>
<text x="1018.0" y="247.6" font-size="12" textLength="29.1" lengthAdjust="spacingAndGlyphs" fill="#4a4a42" font-family='"Liberation Sans", sans-serif'>48.00</text>
<rect x="1009" y="273.8" width="4" height="1" fill="#74735b"/>
<text x="1018.0" y="278.6" font-size="12" textLength="29.1" lengthAdjust="spacingAndGlyphs" fill="#4a4a42" font-family='"Liberation Sans", sans-serif'>30.50</text>
<rect x="1009" y="308.4" width="4" height="1" fill="#74735b"/>
<text x="1018.0" y="313.2" font-size="12" textLength="29.1" lengthAdjust="spacingAndGlyphs" fill="#4a4a42" font-family='"Liberation Sans", sans-serif'>18.50</text>
<rect x="1009" y="340.2" width="4" height="1" fill="#74735b"/>
<text x="1018.0" y="345.0" font-size="12" textLength="29.1" lengthAdjust="spacingAndGlyphs" fill="#4a4a42" font-family='"Liberation Sans", sans-serif'>11.50</text>
<rect x="1009" y="379.0" width="4" height="1" fill="#74735b"/>
<text x="1018.0" y="383.8" font-size="12" textLength="22.8" lengthAdjust="spacingAndGlyphs" fill="#4a4a42" font-family='"Liberation Sans", sans-serif'>6.50</text>
<rect x="1009" y="411.7" width="4" height="1" fill="#74735b"/>
<text x="1018.0" y="416.5" font-size="12" textLength="22.8" lengthAdjust="spacingAndGlyphs" fill="#4a4a42" font-family='"Liberation Sans", sans-serif'>4.00</text>
<rect x="1009" y="445.8" width="4" height="1" fill="#74735b"/>
<text x="1018.0" y="450.6" font-size="12" textLength="22.8" lengthAdjust="spacingAndGlyphs" fill="#4a4a42" font-family='"Liberation Sans", sans-serif'>2.40</text>
<rect x="1009" y="482.1" width="4" height="1" fill="#74735b"/>
<text x="1018.0" y="486.9" font-size="12" textLength="22.8" lengthAdjust="spacingAndGlyphs" fill="#4a4a42" font-family='"Liberation Sans", sans-serif'>1.40</text>
<rect x="1009" y="520.9" width="4" height="1" fill="#74735b"/>
<text x="1018.0" y="525.7" font-size="12" textLength="22.8" lengthAdjust="spacingAndGlyphs" fill="#4a4a42" font-family='"Liberation Sans", sans-serif'>0.80</text>
<rect x="1009" y="551.5" width="4" height="1" fill="#74735b"/>
<text x="1018.0" y="556.3" font-size="12" textLength="22.8" lengthAdjust="spacingAndGlyphs" fill="#4a4a42" font-family='"Liberation Sans", sans-serif'>0.50</text>
<rect x="1009" y="582.7" width="4" height="1" fill="#74735b"/>
<text x="1018.0" y="587.5" font-size="12" textLength="22.8" lengthAdjust="spacingAndGlyphs" fill="#4a4a42" font-family='"Liberation Sans", sans-serif'>0.32</text>
<rect x="1009" y="613.5" width="4" height="1" fill="#74735b"/>
<text x="1018.0" y="618.3" font-size="12" textLength="22.8" lengthAdjust="spacingAndGlyphs" fill="#4a4a42" font-family='"Liberation Sans", sans-serif'>0.20</text>
<rect x="1009" y="169" width="52.2" height="17.7" fill="#4fb181"/>
<text x="1018.0" y="182.6" font-size="12" textLength="35.4" lengthAdjust="spacingAndGlyphs" fill="#ffffff" font-family='"Liberation Sans", sans-serif'>125.99</text>
<rect x="92.9" y="628" width="1" height="4" fill="#74735b"/>
<text x="93.0" y="648.2" font-size="11.6" fill="#4a4a42" text-anchor="middle" font-weight="normal" font-family='"Liberation Sans", sans-serif'>Jul</text>
<rect x="196.8" y="628" width="1" height="4" fill="#74735b"/>
<text x="196.9" y="648.2" font-size="11.6" fill="#4a4a42" text-anchor="middle" font-weight="normal" font-family='"Liberation Sans", sans-serif'>Oct</text>
<rect x="301.9" y="628" width="1" height="4" fill="#74735b"/>
<text x="302.0" y="648.2" font-size="11.6" fill="#4a4a42" text-anchor="middle" font-weight="bold" font-family='"Liberation Sans", sans-serif'>2012</text>
<rect x="406.3" y="628" width="1" height="4" fill="#74735b"/>
<text x="406.4" y="648.2" font-size="11.6" fill="#4a4a42" text-anchor="middle" font-weight="normal" font-family='"Liberation Sans", sans-serif'>Apr</text>
<rect x="510.8" y="628" width="1" height="4" fill="#74735b"/>
<text x="510.9" y="648.2" font-size="11.6" fill="#4a4a42" text-anchor="middle" font-weight="normal" font-family='"Liberation Sans", sans-serif'>Jul</text>
<rect x="616.0" y="628" width="1" height="4" fill="#74735b"/>
<text x="616.1" y="648.2" font-size="11.6" fill="#4a4a42" text-anchor="middle" font-weight="normal" font-family='"Liberation Sans", sans-serif'>Oct</text>
<rect x="728.2" y="628" width="1" height="4" fill="#74735b"/>
<text x="728.3" y="648.2" font-size="11.6" fill="#4a4a42" text-anchor="middle" font-weight="bold" font-family='"Liberation Sans", sans-serif'>2013</text>
<rect x="825.8" y="628" width="1" height="4" fill="#74735b"/>
<text x="825.9" y="648.2" font-size="11.6" fill="#4a4a42" text-anchor="middle" font-weight="normal" font-family='"Liberation Sans", sans-serif'>Apr</text>
<rect x="930.5" y="628" width="1" height="4" fill="#74735b"/>
<text x="930.6" y="648.2" font-size="11.6" fill="#4a4a42" text-anchor="middle" font-weight="normal" font-family='"Liberation Sans", sans-serif'>Jul</text>
<rect x="647.3" y="628.5" width="65.6" height="24" fill="#3f82e0"/>
<text x="680.7" y="645.9" font-size="12" textLength="53.6" lengthAdjust="spacingAndGlyphs" fill="#ffffff" text-anchor="middle" font-family='"Liberation Sans", sans-serif'>26 Nov '12</text>
<rect x="941.2" y="628.5" width="66" height="24" fill="#3f82e0"/>
<text x="974.4" y="645.9" font-size="12" textLength="54.4" lengthAdjust="spacingAndGlyphs" fill="#ffffff" text-anchor="middle" font-family='"Liberation Sans", sans-serif'>25 May '20</text>
<g transform="translate(1044.2,643.6)" fill="none" stroke="#2c2c28">
<circle r="4.6" stroke-width="1.4"/>
<line x1="5.30" y1="0.00" x2="7.30" y2="0.00" stroke-width="2.0"/>
<line x1="3.75" y1="3.75" x2="5.16" y2="5.16" stroke-width="2.0"/>
<line x1="0.00" y1="5.30" x2="0.00" y2="7.30" stroke-width="2.0"/>
<line x1="-3.75" y1="3.75" x2="-5.16" y2="5.16" stroke-width="2.0"/>
<line x1="-5.30" y1="0.00" x2="-7.30" y2="0.00" stroke-width="2.0"/>
<line x1="-3.75" y1="-3.75" x2="-5.16" y2="-5.16" stroke-width="2.0"/>
<line x1="-0.00" y1="-5.30" x2="-0.00" y2="-7.30" stroke-width="2.0"/>
<line x1="3.75" y1="-3.75" x2="5.16" y2="-5.16" stroke-width="2.0"/>
</g>
</g>
<circle cx="974.8" cy="606.4" r="15.8" fill="#8a8a60" fill-opacity="0.06"/>
<circle cx="974.8" cy="605.9" r="14.8" fill="#fdfcf1"/>
<path d="M970.5 600.4 L975.4 606 L970.5 611.6 M975.9 600.4 L980.8 606 L975.9 611.6" fill="none" stroke="#80838a" stroke-width="2"/>
</svg></body></html>
